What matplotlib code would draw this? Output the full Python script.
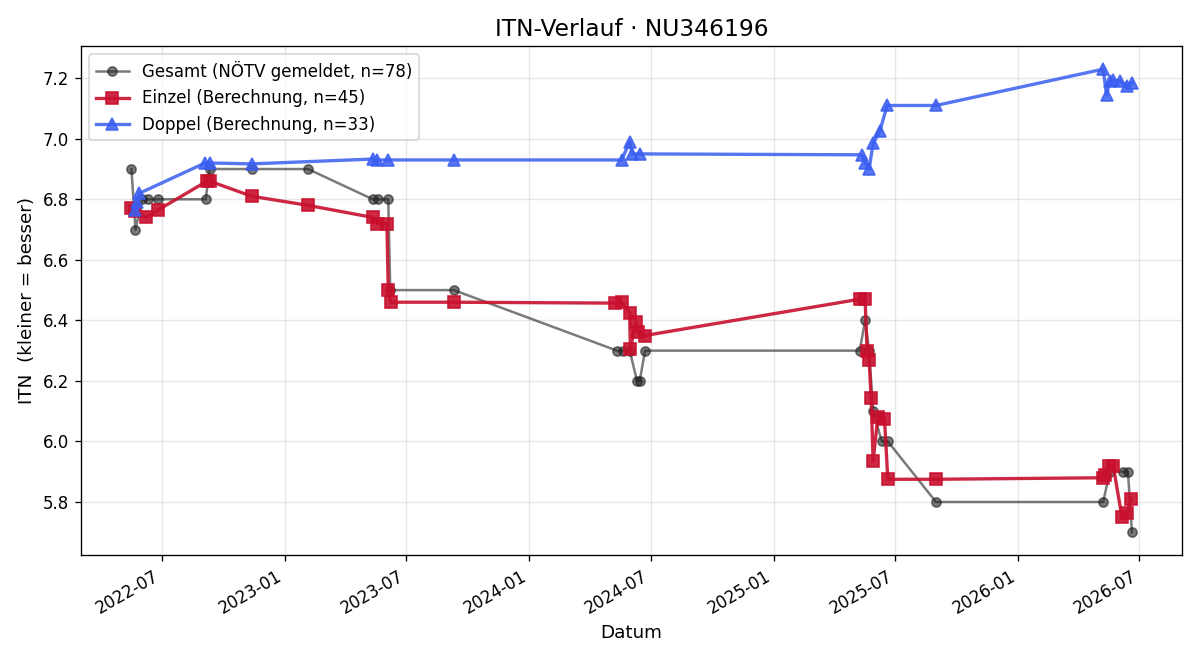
import numpy as np
import pandas as pd
import matplotlib
matplotlib.use("Agg")
import matplotlib.pyplot as plt
import matplotlib.dates as mdates

# Gesamt (NÖTV gemeldet)
ges_dates = ["2022-05-16", "2022-05-22", "2022-06-01", "2022-06-10", "2022-06-25",
             "2022-09-04", "2022-09-10", "2022-11-12", "2023-02-04", "2023-05-12",
             "2023-05-20", "2023-06-04", "2023-06-07", "2023-09-10", "2024-05-11",
             "2024-05-20", "2024-05-30", "2024-06-10", "2024-06-14", "2024-06-22",
             "2025-05-09", "2025-05-17", "2025-05-23", "2025-05-29", "2025-06-11",
             "2025-06-20", "2025-08-31", "2026-05-08", "2026-05-18", "2026-06-07",
             "2026-06-14", "2026-06-20"]
ges_itn = [6.9, 6.7, 6.8, 6.8, 6.8,
           6.8, 6.9, 6.9, 6.9, 6.8,
           6.8, 6.8, 6.5, 6.5, 6.3,
           6.3, 6.3, 6.2, 6.2, 6.3,
           6.3, 6.4, 6.3, 6.1, 6.0,
           6.0, 5.8, 5.8, 5.9, 5.9,
           5.9, 5.7]

# Einzel (Berechnung)
ein_dates = ["2022-05-15", "2022-05-22", "2022-06-07", "2022-06-25", "2022-09-06",
             "2022-09-10", "2022-11-12", "2023-02-04", "2023-05-12", "2023-05-18",
             "2023-06-02", "2023-06-04", "2023-06-08", "2023-09-10", "2024-05-08",
             "2024-05-18", "2024-05-30", "2024-05-31", "2024-06-08", "2024-06-11",
             "2024-06-22", "2025-05-09", "2025-05-17", "2025-05-20", "2025-05-23",
             "2025-05-26", "2025-05-29", "2025-06-05", "2025-06-15", "2025-06-20",
             "2025-08-31", "2026-05-07", "2026-05-10", "2026-05-16", "2026-05-23",
             "2026-06-05", "2026-06-13", "2026-06-19"]
ein_itn = [6.77, 6.76, 6.74, 6.765, 6.86,
           6.86, 6.81, 6.78, 6.74, 6.72,
           6.72, 6.50, 6.46, 6.46, 6.457,
           6.46, 6.425, 6.305, 6.395, 6.36,
           6.35, 6.47, 6.47, 6.30, 6.27,
           6.145, 5.935, 6.08, 6.075, 5.875,
           5.875, 5.88, 5.89, 5.92, 5.92,
           5.75, 5.765, 5.81]

# Doppel (Berechnung)
dop_dates = ["2022-05-22", "2022-05-25", "2022-05-28", "2022-09-03", "2022-09-10",
             "2022-11-12", "2023-05-12", "2023-05-18", "2023-06-04", "2023-09-10",
             "2024-05-18", "2024-05-30", "2024-06-03", "2024-06-14", "2025-05-12",
             "2025-05-17", "2025-05-23", "2025-05-29", "2025-06-08", "2025-06-19",
             "2025-08-31", "2026-05-08", "2026-05-13", "2026-05-18", "2026-05-23",
             "2026-06-02", "2026-06-13", "2026-06-20"]
dop_itn = [6.765, 6.79, 6.82, 6.92, 6.92,
           6.917, 6.933, 6.93, 6.93, 6.93,
           6.93, 6.99, 6.95, 6.95, 6.947,
           6.92, 6.90, 6.985, 7.025, 7.11,
           7.11, 7.23, 7.145, 7.19, 7.195,
           7.19, 7.175, 7.185]

fig, ax = plt.subplots(figsize=(10, 5.5), dpi=120)

ax.plot(pd.to_datetime(ges_dates), ges_itn, marker="o", ms=5.5, lw=1.5,
        color="#222222", alpha=0.6, label="Gesamt (NÖTV gemeldet, n=78)")
ax.plot(pd.to_datetime(ein_dates), ein_itn, marker="s", ms=7, lw=2,
        color="#c8102e", alpha=0.9, label="Einzel (Berechnung, n=45)")
ax.plot(pd.to_datetime(dop_dates), dop_itn, marker="^", ms=7, lw=2,
        color="#3a5ef0", alpha=0.85, label="Doppel (Berechnung, n=33)")

ax.xaxis.set_major_locator(mdates.MonthLocator(bymonth=[1, 7]))
ax.xaxis.set_major_formatter(mdates.DateFormatter("%Y-%m"))
ax.set_title("ITN-Verlauf · NU346196", fontsize=14)
ax.set_xlabel("Datum", fontsize=11)
ax.set_ylabel("ITN  (kleiner = besser)", fontsize=11)
ax.grid(alpha=0.3)
ax.legend(loc="upper left")
fig.autofmt_xdate()
fig.tight_layout()
fig.savefig("out.png")
